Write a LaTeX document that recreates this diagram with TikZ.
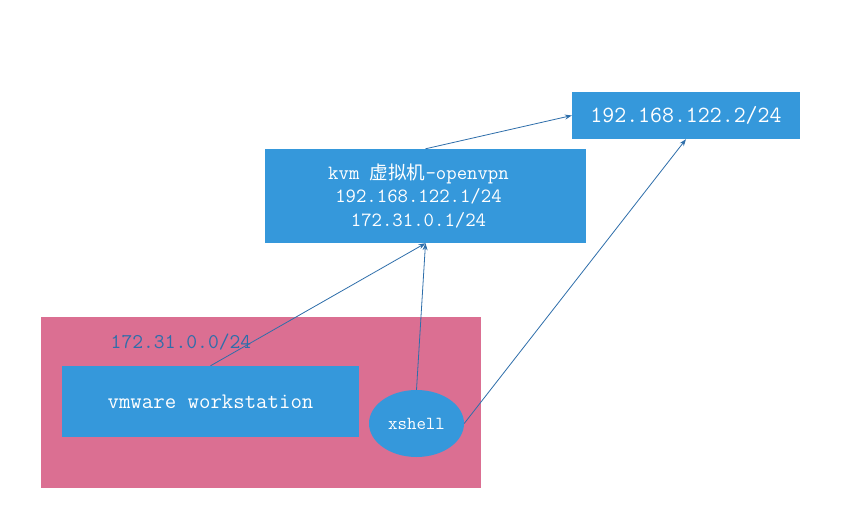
\documentclass[tikz,border=0pt]{standalone}
\usepackage{fontspec}
\newfontfamily\cjk{Noto Sans CJK SC}[Scale=0.92]
\usetikzlibrary{arrows.meta,shapes.geometric}
\definecolor{boxblue}{RGB}{53,152,219}
\definecolor{pinkbg}{RGB}{219,111,146}
\definecolor{linecol}{RGB}{46,110,170}
\tikzset{
  bluebox/.style={fill=boxblue, draw=none, inner sep=0pt, text=white, align=center},
  arr/.style={draw=linecol, line width=0.8pt, -{Stealth[length=7pt,width=5pt]}},
}
\begin{document}
\begin{tikzpicture}[x={(1pt,0)}, y={(0,-1pt)}]
\useasboundingbox[fill=white] (0,0) rectangle (846,519);
\node[fill=pinkbg, minimum width=440pt, minimum height=171pt, inner sep=0pt] (pink) at (261,402.5) {};
\node[bluebox, minimum width=228pt, minimum height=47pt, font=\ttfamily\fontsize{23.2}{26}\selectfont] (tr) at (686,115.5) {192.168.122.2/24};
\node[bluebox, minimum width=321pt, minimum height=94pt] (kvm) at (425.5,196) {};
\node[text=white, inner sep=0pt, align=center, font=\ttfamily\fontsize{20.2}{23.5}\selectfont] (kvmtext) at ([xshift=-7pt]kvm.center) {kvm {\cjk 虚拟机}-openvpn\\192.168.122.1/24\\172.31.0.1/24};
\node[bluebox, minimum width=297pt, minimum height=71pt, font=\ttfamily\fontsize{22.2}{24}\selectfont] (vm) at (210.5,401.5) {vmware workstation};
\node[bluebox, ellipse, minimum width=95pt, minimum height=67pt, font=\ttfamily\fontsize{18.4}{21}\selectfont] (xs) at (416.5,423.5) {xshell};
\node[text=linecol, inner sep=0pt, font=\ttfamily\fontsize{21}{22}\selectfont] (lbl) at (181,342) {172.31.0.0/24};
\draw[arr] (kvm.north) -- (tr.west);
\draw[arr] (vm.north) -- (kvm.south);
\draw[arr] (xs.north) -- (kvm.south);
\draw[arr] (xs.east) -- (tr.south);
\end{tikzpicture}
\end{document}
